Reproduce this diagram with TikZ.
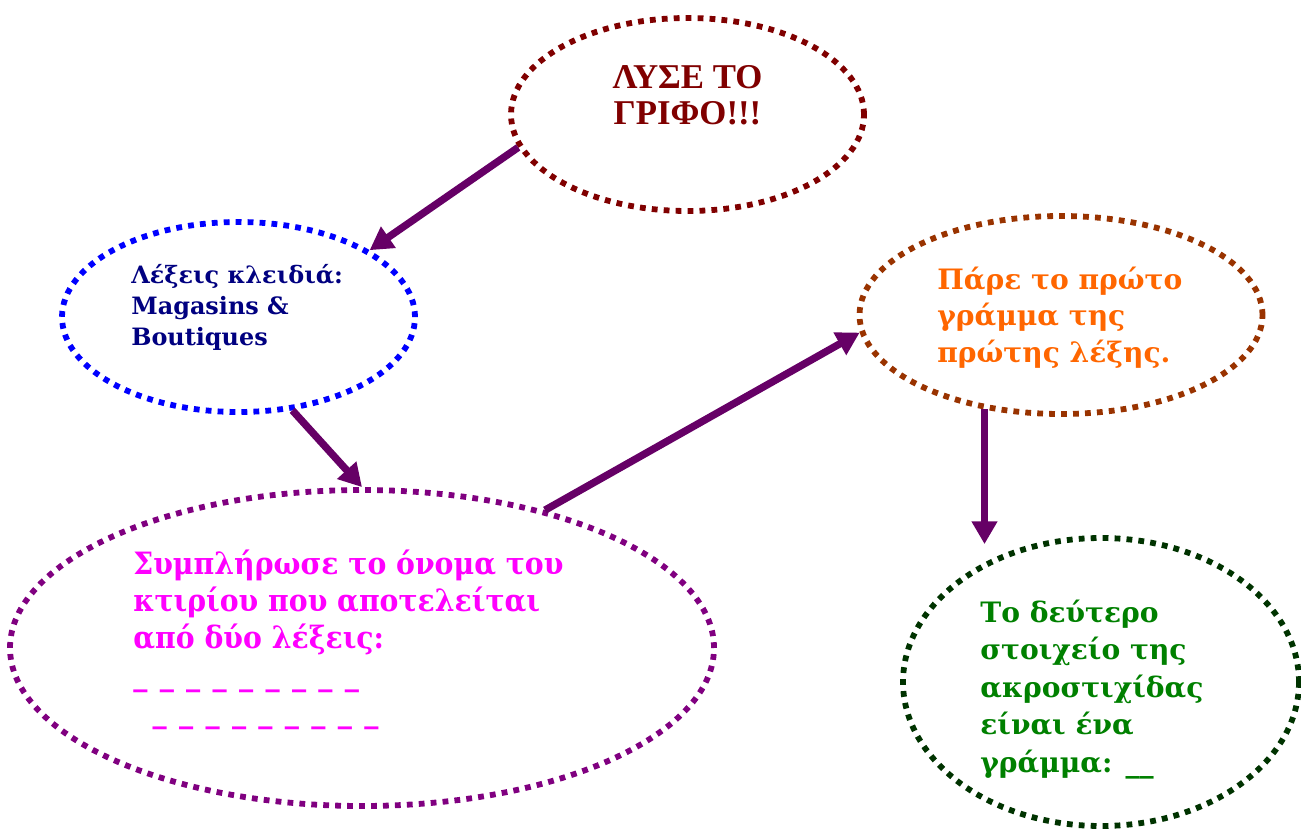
\documentclass[tikz,border=0pt]{standalone}
\usepackage{fontspec}
\setmainfont{DejaVu Serif}
\newfontfamily\timesfont{Liberation Serif}
\newfontfamily\narrowfont{DejaVu Serif}[FakeStretch=0.92]
\usepackage{tikz}
\usetikzlibrary{shapes.geometric,arrows.meta,positioning}
\definecolor{grifored}{HTML}{800000}
\definecolor{keyblue}{HTML}{0000FF}
\definecolor{keynavy}{HTML}{000080}
\definecolor{ktiriopurple}{HTML}{800080}
\definecolor{ktiriomagenta}{HTML}{FF00FF}
\definecolor{prwtobrown}{HTML}{993300}
\definecolor{prwtoorange}{HTML}{FF6600}
\definecolor{deuterodark}{HTML}{003300}
\definecolor{deuterogreen}{HTML}{008000}
\definecolor{arrowpurple}{HTML}{660066}

\begin{document}
\begin{tikzpicture}[bubble/.style={shape=ellipse,inner sep=0pt,line width=3.3pt,dash pattern=on 3.3pt off 3.5pt},
  words/.style={inner sep=0pt,align=left,anchor=base west,font=\bfseries},
  arrowline/.style={draw=arrowpurple,line width=4.2pt,-{Triangle[length=13pt,width=14pt]}}]
\useasboundingbox (0,0) rectangle (26.02,16.56);
\node[bubble,draw=grifored,minimum width=7.06cm,minimum height=3.86cm] (grifo) at (13.75,14.27) {};
\node[bubble,draw=keyblue,minimum width=7.06cm,minimum height=3.8cm] (lexeis) at (4.77,10.22) {};
\node[bubble,draw=ktiriopurple,minimum width=14.08cm,minimum height=6.32cm] (ktirio) at (7.24,3.6) {};
\node[bubble,draw=prwtobrown,minimum width=8.06cm,minimum height=3.96cm] (prwto) at (21.22,10.26) {};
\node[bubble,draw=deuterodark,minimum width=7.92cm,minimum height=5.76cm] (deutero) at (22.02,2.92) {};

\node[words,anchor=base,align=center,text=grifored,font=\timesfont\bfseries\fontsize{19.8}{21}\selectfont] (grifotext) at (13.75,14.06) {ΛΥΣΕ ΤΟ\\ΓΡΙΦΟ!!!};
\node[words,text=keynavy,font=\bfseries\fontsize{13.6}{17.6}\selectfont] (lexeistext) at (2.62,9.66) {Λέξεις κλειδιά:\\Magasins \&\\Boutiques};
\node[words,text=ktiriomagenta,font=\narrowfont\bfseries\fontsize{17.5}{21}\selectfont] (ktiriotext) at (2.66,2.12) {Συμπλήρωσε το όνομα του\\κτιρίου που αποτελείται\\από δύο λέξεις:\\{\spaceskip=7pt\_ \_ \_ \_ \_ \_ \_ \_ \_}\\\hspace*{11pt}{\spaceskip=7pt\_ \_ \_ \_ \_ \_ \_ \_ \_}};
\node[words,text=prwtoorange,font=\bfseries\fontsize{16}{20.7}\selectfont] (prwtotext) at (18.74,9.32) {Πάρε το πρώτο\\γράμμα της\\πρώτης λέξης.};
\node[words,text=deuterogreen,font=\bfseries\fontsize{16}{21.3}\selectfont] (deuterotext) at (19.6,1.12) {Το δεύτερο\\στοιχείο της\\ακροστιχίδας\\είναι ένα\\γράμμα: \_\_};

\draw[arrowline] (grifo.191) -- (lexeis.27);
\draw[arrowline] (lexeis.300) -- (ktirio.north);
\draw[arrowline] (ktirio.37) -- (prwto.185);
\draw[arrowline,shorten >=-0.18cm] (prwto.231) -- (prwto.231 |- deutero.north);
\end{tikzpicture}
\end{document}
